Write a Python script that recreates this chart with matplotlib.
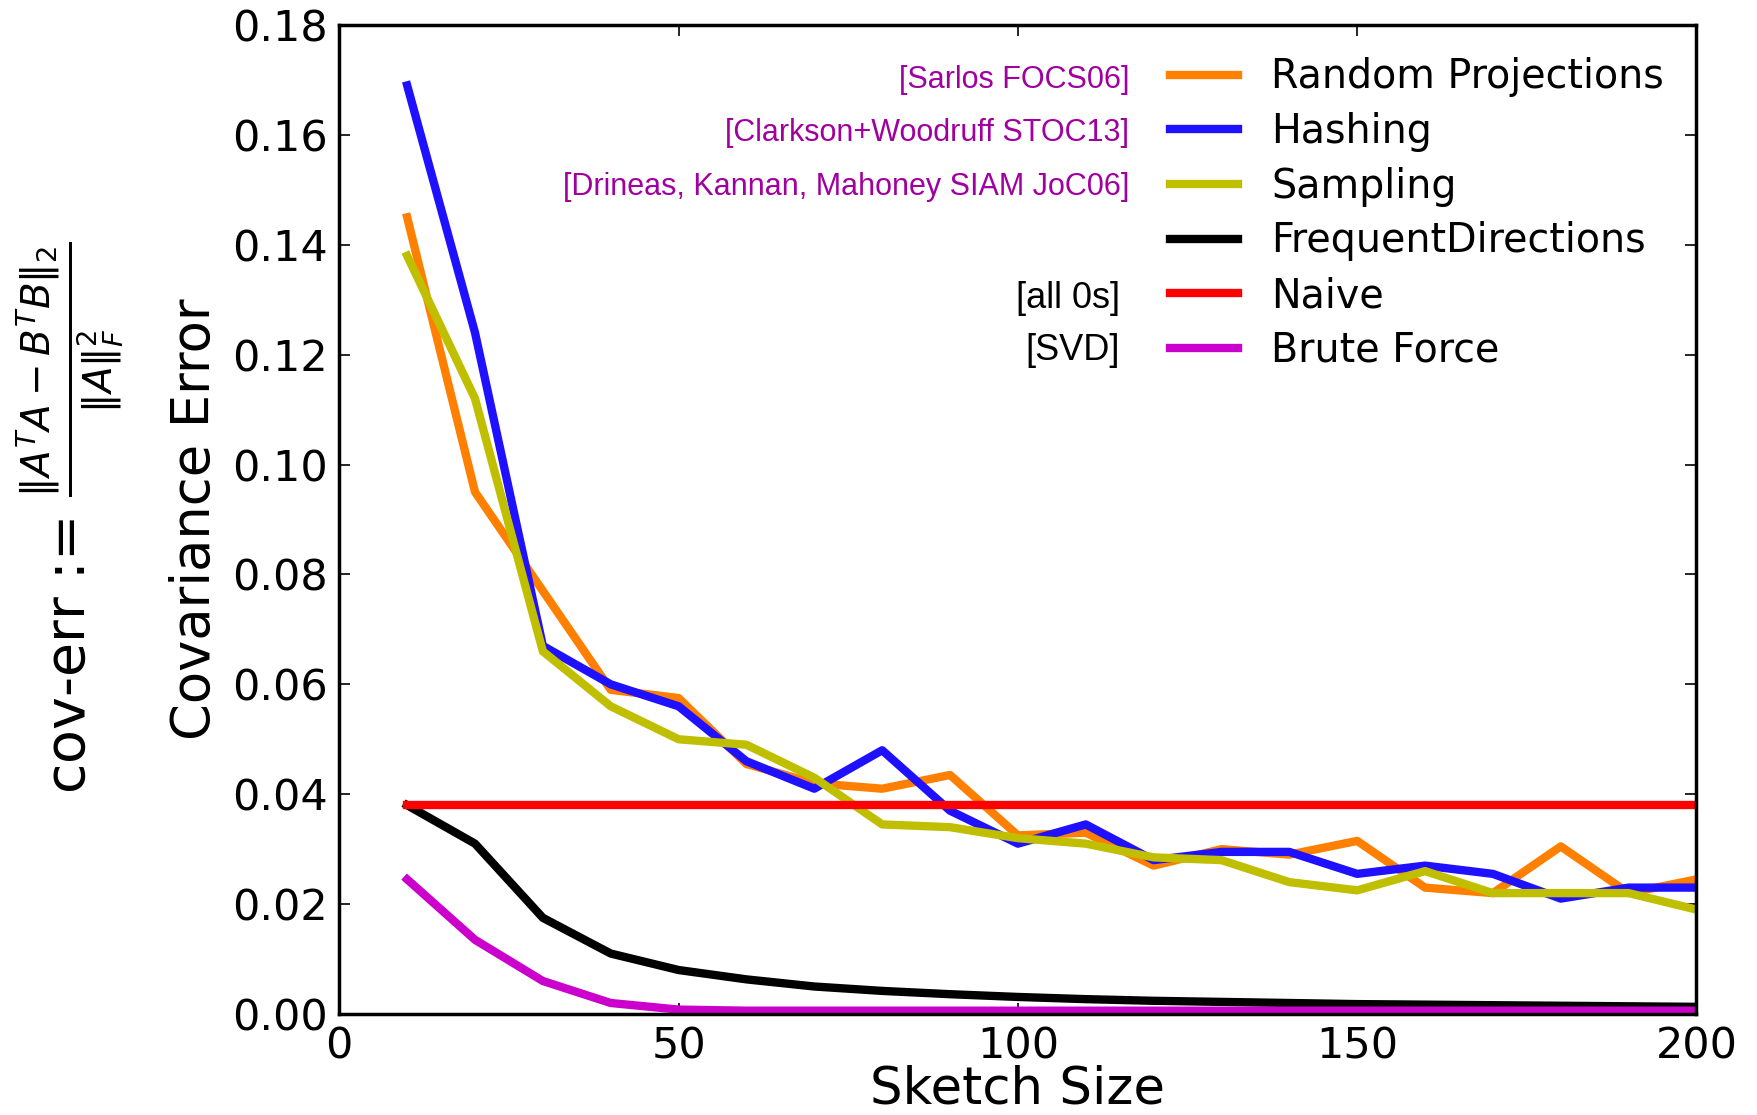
import numpy as np
import matplotlib
matplotlib.use("Agg")
from matplotlib import pyplot as plt

# sketch sizes and covariance error per method
sketch_size = [10, 20, 30, 40, 50, 60, 70, 80, 90, 100,
               110, 120, 130, 140, 150, 160, 170, 180, 190, 200]
random_proj = [0.145, 0.095, 0.077, 0.059, 0.0575, 0.0455, 0.042, 0.041, 0.0435, 0.0325,
               0.033, 0.027, 0.030, 0.029, 0.0315, 0.023, 0.022, 0.0305, 0.022, 0.0245]
hashing = [0.169, 0.124, 0.067, 0.060, 0.056, 0.046, 0.041, 0.048, 0.037, 0.031,
           0.0345, 0.028, 0.0295, 0.0295, 0.0255, 0.027, 0.0255, 0.021, 0.023, 0.023]
sampling = [0.138, 0.112, 0.066, 0.056, 0.050, 0.049, 0.043, 0.0345, 0.034, 0.032,
            0.031, 0.0285, 0.028, 0.024, 0.0225, 0.026, 0.022, 0.022, 0.022, 0.019]
freq_dir = [0.038, 0.031, 0.0175, 0.011, 0.008, 0.0063, 0.005, 0.0042, 0.0036, 0.0031,
            0.0027, 0.0024, 0.0022, 0.002, 0.0018, 0.0017, 0.0016, 0.0015, 0.0014, 0.0013]
naive = [0.038] * 20
brute = [0.0245, 0.0135, 0.006, 0.002, 0.0008, 0.0006, 0.0006, 0.0006, 0.0006, 0.0006,
         0.0006, 0.0006, 0.0006, 0.0006, 0.0006, 0.0006, 0.0006, 0.0006, 0.0006, 0.0006]

labels = ["Random Projections", "Hashing", "Sampling", "FrequentDirections", "Naive", "Brute Force"]
colors = ["#ff7f00", "#1f10ff", "#bfbf00", "black", "red", "#cc00cc"]
refs = ["[Sarlos FOCS06]", "[Clarkson+Woodruff STOC13]",
        "[Drineas, Kannan, Mahoney SIAM JoC06]", "", "[all 0s]", "[SVD]"]
ref_colors = ["#a0009f", "#a0009f", "#a0009f", "black", "black", "black"]

plt.rcParams['mathtext.fontset'] = 'dejavusans'

fig = plt.figure(figsize=(17.58, 11.15), dpi=100)
ax = fig.add_axes([0.193, 0.0906, 0.772, 0.887])

series = [random_proj, hashing, sampling, freq_dir, naive, brute]
for ys, lab, c in zip(series, labels, colors):
    ax.plot(sketch_size, ys, color=c, lw=6, label=lab)

ax.set_xlim(0, 200)
ax.set_ylim(0, 0.18)
ax.set_xticks(np.arange(0, 201, 50))
ax.set_yticks(np.arange(0, 0.181, 0.02))
ax.set_yticklabels(["%.2f" % v for v in np.arange(0, 0.181, 0.02)])
ax.tick_params(direction='in', length=8, width=1.2, labelsize=31, pad=8,
               top=True, right=True)
for s in ax.spines.values():
    s.set_linewidth(2.5)

ax.set_ylabel("Covariance Error", fontsize=38, labelpad=8)
ax.set_xlabel("Sketch Size", fontsize=37, labelpad=-2)

leg = ax.legend(loc='upper right', frameon=False, fontsize=28.5,
                handlelength=1.7, handletextpad=0.85, labelspacing=0.37,
                borderaxespad=0.42)
for ln in leg.get_lines():
    ln.set_linewidth(6)

# citation notes next to legend entries
ref_y = [0.944, 0.891, 0.836, 0.78, 0.723, 0.671]
for txt, c, y in zip(refs, ref_colors, ref_y):
    if not txt:
        continue
    x = 0.582 if c != "black" else 0.575
    fs = 22 if c != "black" else 26
    ax.text(x, y, txt, transform=ax.transAxes, ha='right', va='center',
            color=c, fontsize=fs, family='Liberation Sans')

fig.text(0.040, 0.535, r"cov-err := $\frac{\|A^TA - B^TB\|_2}{\|A\|_F^2}$",
         rotation=90, ha='center', va='center', fontsize=40)

fig.savefig("out.png", dpi=100)
